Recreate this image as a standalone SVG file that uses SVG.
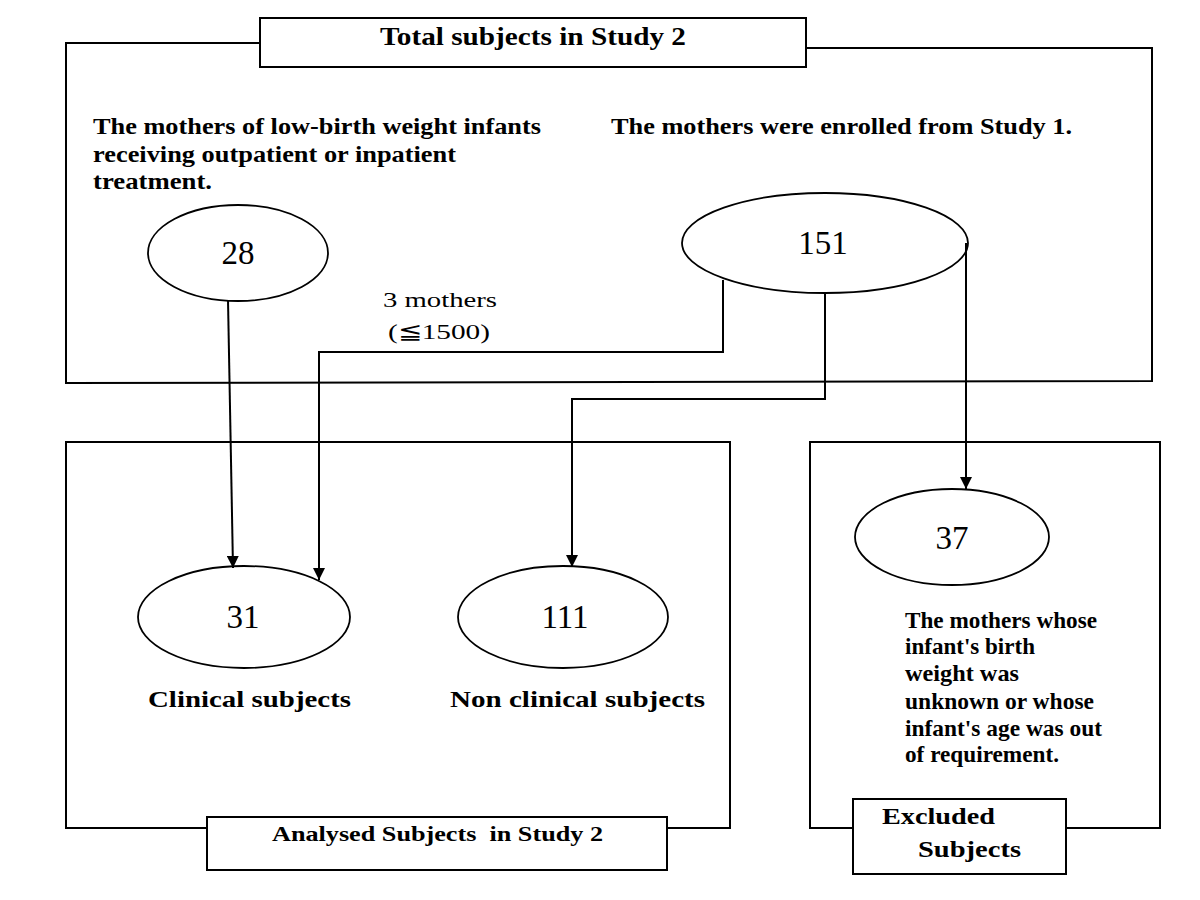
<svg xmlns="http://www.w3.org/2000/svg" width="1200" height="900" viewBox="0 0 1200 900">
<style>
.ln{fill:none;stroke:#000;stroke-width:2}
.box{fill:#fff;stroke:#000;stroke-width:2}
.ell{fill:#fff;stroke:#000;stroke-width:1.8}
.b{font-family:"Liberation Serif",serif;font-weight:bold;fill:#000}
.r{font-family:"Liberation Serif",serif;fill:#000}
.num{font-family:"Liberation Serif",serif;font-size:33px;fill:#000;text-anchor:middle}
</style>
<defs>
<marker id="ah" viewBox="0 0 10 10" refX="10" refY="5" markerWidth="6" markerHeight="6" markerUnits="strokeWidth" orient="auto">
<path d="M0,0 L10,5 L0,10 z" fill="#000"/>
</marker>
</defs>
<g id="total">
<polyline class="ln" points="260,43 66,43 66,383 1152,381 1152,48 806,48"/>
<rect class="box" x="260" y="18" width="546" height="49"/>
<text class="b" x="380" y="45" font-size="26" textLength="306" lengthAdjust="spacingAndGlyphs">Total subjects in Study 2</text>
<text class="b" x="93" y="134" font-size="22.5" textLength="448" lengthAdjust="spacingAndGlyphs">The mothers of low-birth weight infants</text>
<text class="b" x="93" y="162" font-size="22.5" textLength="363" lengthAdjust="spacingAndGlyphs">receiving outpatient or inpatient</text>
<text class="b" x="93" y="189" font-size="22.5" textLength="119" lengthAdjust="spacingAndGlyphs">treatment.</text>
<text class="b" x="611" y="134" font-size="22.5" textLength="461" lengthAdjust="spacingAndGlyphs">The mothers were enrolled from Study 1.</text>
</g>
<g id="n28">
<ellipse class="ell" cx="238" cy="253" rx="90" ry="48"/>
<text class="num" x="238" y="264">28</text>
</g>
<g id="n151">
<ellipse class="ell" cx="825" cy="243" rx="143" ry="50"/>
<text class="num" x="823" y="254">151</text>
</g>
<g id="analysed">
<polyline class="ln" points="207,828 66,828 66,442 730,442 730,828 667,828"/>
<rect class="box" x="207" y="817" width="460" height="53"/>
<text class="b" x="272" y="841" font-size="22" textLength="331" lengthAdjust="spacingAndGlyphs" xml:space="preserve">Analysed Subjects  in Study 2</text>
</g>
<g id="n31">
<ellipse class="ell" cx="244" cy="617" rx="106" ry="51"/>
<text class="num" x="243" y="628">31</text>
<text class="b" x="148" y="707" font-size="23" textLength="203" lengthAdjust="spacingAndGlyphs">Clinical subjects</text>
</g>
<g id="n111">
<ellipse class="ell" cx="563" cy="617" rx="105" ry="51"/>
<text class="num" x="565" y="628">111</text>
<text class="b" x="450" y="707" font-size="23" textLength="255" lengthAdjust="spacingAndGlyphs">Non clinical subjects</text>
</g>
<g id="excluded">
<polyline class="ln" points="853,828 810,828 810,442 1160,442 1160,828 1066,828"/>
<rect class="box" x="853" y="799" width="213" height="75"/>
<text class="b" x="882" y="824" font-size="23" textLength="113" lengthAdjust="spacingAndGlyphs">Excluded</text>
<text class="b" x="918" y="857" font-size="23" textLength="103" lengthAdjust="spacingAndGlyphs">Subjects</text>
</g>
<g id="n37">
<ellipse class="ell" cx="952" cy="537" rx="97" ry="48"/>
<text class="num" x="952" y="549">37</text>
<text class="b" x="905" y="628" font-size="23" textLength="192" lengthAdjust="spacingAndGlyphs">The mothers whose</text>
<text class="b" x="905" y="654" font-size="23" textLength="130" lengthAdjust="spacingAndGlyphs">infant's birth</text>
<text class="b" x="905" y="681" font-size="23" textLength="114" lengthAdjust="spacingAndGlyphs">weight was</text>
<text class="b" x="905" y="709" font-size="23" textLength="189" lengthAdjust="spacingAndGlyphs">unknown or whose</text>
<text class="b" x="905" y="736" font-size="23" textLength="197" lengthAdjust="spacingAndGlyphs">infant's age was out</text>
<text class="b" x="905" y="762" font-size="23" textLength="154" lengthAdjust="spacingAndGlyphs">of requirement.</text>
</g>
<g id="connectors">
<line class="ln" x1="228" y1="300" x2="233" y2="568" marker-end="url(#ah)"/>
<polyline class="ln" points="723,280 723,352 319,352 319,580" marker-end="url(#ah)"/>
<polyline class="ln" points="825,293 825,399 572,399 572,567" marker-end="url(#ah)"/>
<line class="ln" x1="966" y1="243" x2="966" y2="489" marker-end="url(#ah)"/>
<text class="r" x="383" y="307" font-size="22" textLength="114" lengthAdjust="spacingAndGlyphs">3 mothers</text>
<text class="r" x="388" y="339" font-size="22" textLength="102" lengthAdjust="spacingAndGlyphs" font-family="'Liberation Serif','Noto Sans CJK SC',serif">(≦1500)</text>
</g>
</svg>
